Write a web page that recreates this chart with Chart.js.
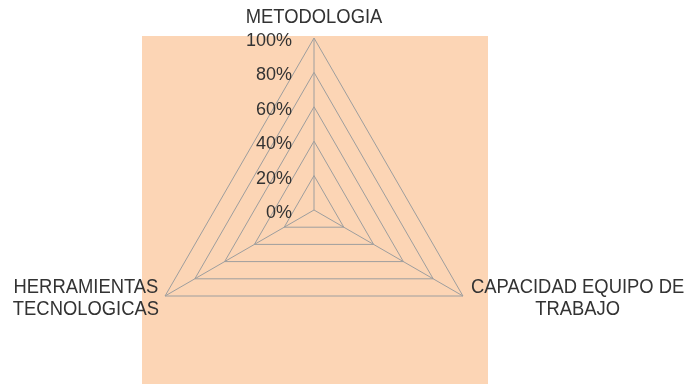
<!DOCTYPE html>
<html>
<head>
<meta charset="utf-8">
<script src="https://cdn.jsdelivr.net/npm/chart.js@4.4.1/dist/chart.umd.min.js"></script>
<style>
  html, body { margin: 0; padding: 0; background: #ffffff; }
  #wrap { width: 691px; height: 384px; }
</style>
</head>
<body>
<div id="wrap"><canvas id="radar" width="691" height="384"></canvas></div>
<script>
// Axes of the radar (multi-line names), clockwise from the top
const categories = [
  ['METODOLOGIA'],
  ['CAPACIDAD EQUIPO DE', 'TRABAJO'],
  ['HERRAMIENTAS', 'TECNOLOGICAS']
];
// Evaluation series (percent per axis)
const seriesValues = [0, 0, 0];
// Radial scale
const tickValues = [0, 20, 40, 60, 80, 100];
const tickLabels = ['0%', '20%', '40%', '60%', '80%', '100%'];

const TICK_FONT = '18px "Liberation Sans", Arial, sans-serif';
const NAME_FONT = '20px "Liberation Sans", Arial, sans-serif';
const NAME_SQUEEZE = 0.92;   // axis names are set slightly condensed
const TEXT = '#333333';
const PLOT_BG = '#FCD5B5';
const GRID = '#9e9e9e';

// Fills the plot area behind the web
const plotBackground = {
  id: 'plotBackground',
  beforeDraw(chart) {
    const { ctx, chartArea: a } = chart;
    ctx.save();
    ctx.fillStyle = PLOT_BG;
    ctx.fillRect(a.left, a.top, a.right - a.left + 2, a.bottom - a.top);
    ctx.restore();
  }
};

// Tick labels left of the vertical spoke, axis names outside the vertices
const radarText = {
  id: 'radarText',
  afterDraw(chart) {
    const { ctx } = chart;
    const r = chart.scales.r;
    ctx.save();
    ctx.fillStyle = TEXT;
    ctx.textBaseline = 'middle';

    ctx.font = TICK_FONT;
    ctx.textAlign = 'right';
    tickValues.forEach((v, i) => {
      const y = r.yCenter - r.getDistanceFromCenterForValue(v);
      ctx.fillText(tickLabels[i], r.xCenter - 22, y + 3);
    });

    ctx.font = NAME_FONT;
    ctx.textAlign = 'center';
    const outer = r.getDistanceFromCenterForValue(r.max);
    const lineH = 22;
    const drawName = (s, x, y) => {
      ctx.save();
      ctx.translate(x, y);
      ctx.scale(NAME_SQUEEZE, 1);
      ctx.fillText(s, 0, 0);
      ctx.restore();
    };
    categories.forEach((lines, i) => {
      const p = r.getPointPosition(i, outer);
      const w = NAME_SQUEEZE * Math.max(...lines.map(s => ctx.measureText(s).width));
      let cx, y0;
      if (Math.abs(p.x - r.xCenter) < 1) {
        cx = p.x;
        y0 = p.y - 21 - (lines.length - 1) * lineH;
      } else if (p.x > r.xCenter) {
        cx = p.x + 8 + w / 2;
        y0 = p.y - 9;
      } else {
        cx = p.x - 6 - w / 2;
        y0 = p.y - 9;
      }
      lines.forEach((s, k) => drawName(s, cx, y0 + k * lineH));
    });
    ctx.restore();
  }
};

new Chart(document.getElementById('radar'), {
  type: 'radar',
  data: {
    labels: categories,
    datasets: [{
      label: 'Serie 1',
      data: seriesValues,
      borderColor: 'rgba(0,0,0,0)',
      backgroundColor: 'rgba(0,0,0,0)',
      borderWidth: 0,
      pointRadius: 0
    }]
  },
  options: {
    responsive: false,
    animation: false,
    layout: { padding: { left: 142, right: 205, top: 36, bottom: 0 } },
    plugins: { legend: { display: false }, tooltip: { enabled: false } },
    scales: {
      r: {
        min: 0,
        max: 100,
        ticks: { display: false, stepSize: 20 },
        pointLabels: { display: false },
        grid: { color: GRID, lineWidth: 1 },
        angleLines: { color: GRID, lineWidth: 1 }
      }
    }
  },
  plugins: [plotBackground, radarText]
});
</script>
</body>
</html>
